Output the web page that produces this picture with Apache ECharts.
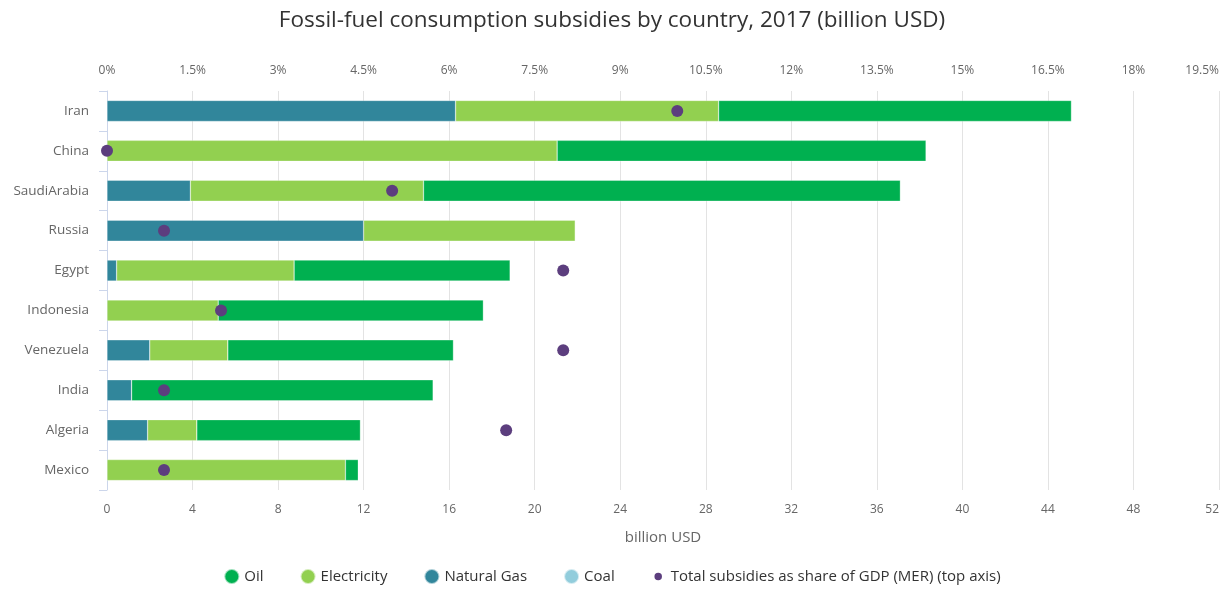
<!DOCTYPE html>
<html>
<head>
<meta charset="utf-8">
<script src="https://cdn.jsdelivr.net/npm/echarts@6/dist/echarts.min.js"></script>
<style>html,body{margin:0;padding:0;background:#fff}#c{width:1224px;height:591px}</style>
</head>
<body>
<div id="c"></div>
<script>
const countries = ['Iran','China','SaudiArabia','Russia','Egypt','Indonesia','Venezuela','India','Algeria','Mexico'];
const naturalGas = [16.3, 0, 3.9, 12.0, 0.45, 0, 2.0, 1.15, 1.9, 0];
const electricity = [12.3, 21.05, 10.9, 9.9, 8.3, 5.2, 3.65, 0, 2.3, 11.15];
const oil = [16.5, 17.25, 22.3, 0, 10.1, 12.4, 10.55, 14.1, 7.65, 0.6];
const coal = [null, null, null, null, null, null, null, null, null, null];
const gdpShare = [10.0, 0.0, 5.0, 1.0, 8.0, 2.0, 8.0, 1.0, 7.0, 1.0];
const bottomTicks = {min: 0, max: 52, interval: 4};
const topTicks = {min: 0, max: 19.5, interval: 1.5};

const font = '"Open Sans", "Noto Sans", sans-serif';
const chart = echarts.init(document.getElementById('c'), null, {renderer: 'canvas'});
const barBase = {type: 'bar', stack: 'total', barWidth: 21, xAxisIndex: 0, yAxisIndex: 0,
  itemStyle: {borderColor: 'rgba(255,255,255,0.6)', borderWidth: 0.5}};
const dotName = 'Total subsidies as share of GDP (MER) (top axis)';
chart.setOption({
  animation: false,
  textStyle: {fontFamily: font},
  title: {text: 'Fossil-fuel consumption subsidies by country, 2017 (billion USD)', left: 'center', top: 4,
    textStyle: {fontFamily: font, fontSize: 22.5, fontWeight: 'normal', color: '#333'}},
  legend: {bottom: 1, left: 'center', icon: 'circle', itemWidth: 15, itemHeight: 15, itemGap: 36,
    textStyle: {fontFamily: font, fontSize: 15, color: '#333'},
    data: ['Oil', 'Electricity', 'Natural Gas', 'Coal',
      {name: dotName, icon: 'path://M-10,0 m0,0 M0,-5 a5,5 0 1,0 0.001,0 Z M10,0 m0,0'}]},
  grid: {left: 107, right: 5, top: 91, bottom: 101, containLabel: false, outerBoundsMode: 'none'},
  xAxis: [
    {type: 'value', position: 'bottom', min: bottomTicks.min, max: bottomTicks.max, interval: bottomTicks.interval,
      name: 'billion USD', nameLocation: 'middle', nameGap: 40,
      nameTextStyle: {fontFamily: font, fontSize: 15, color: '#666'},
      axisLine: {show: false}, axisTick: {show: false},
      axisLabel: {fontFamily: font, fontSize: 12, color: '#666', margin: 14, alignMaxLabel: 'right'},
      splitLine: {show: true, lineStyle: {color: '#e3e3e3', width: 1}}},
    {type: 'value', position: 'top', min: topTicks.min, max: topTicks.max, interval: topTicks.interval,
      axisLine: {show: false}, axisTick: {show: false},
      axisLabel: {fontFamily: font, fontSize: 12, color: '#666', margin: 14, alignMaxLabel: 'right',
        formatter: v => (Math.round(v * 10) / 10) + '%'},
      splitLine: {show: false}}
  ],
  yAxis: [{type: 'category', data: countries, inverse: true,
    axisLine: {show: true, lineStyle: {color: '#ccd6eb'}},
    axisTick: {show: true, length: 8, lineStyle: {color: '#ccd6eb'}},
    axisLabel: {fontFamily: font, fontSize: 13.5, color: '#666', margin: 18},
    splitLine: {show: false}}],
  series: [
    Object.assign({}, barBase, {name: 'Natural Gas', data: naturalGas, itemStyle: Object.assign({}, barBase.itemStyle, {color: '#31869b'})}),
    Object.assign({}, barBase, {name: 'Electricity', data: electricity, itemStyle: Object.assign({}, barBase.itemStyle, {color: '#92d050'})}),
    Object.assign({}, barBase, {name: 'Oil', data: oil, itemStyle: Object.assign({}, barBase.itemStyle, {color: '#00b050'})}),
    Object.assign({}, barBase, {name: 'Coal', data: coal, itemStyle: Object.assign({}, barBase.itemStyle, {color: '#92cddc'})}),
    {type: 'scatter', name: dotName, xAxisIndex: 1, yAxisIndex: 0,
      symbol: 'circle', symbolSize: 12, z: 5, data: gdpShare,
      itemStyle: {color: '#5c3e7e', opacity: 1}}
  ]
});
</script>
</body>
</html>
